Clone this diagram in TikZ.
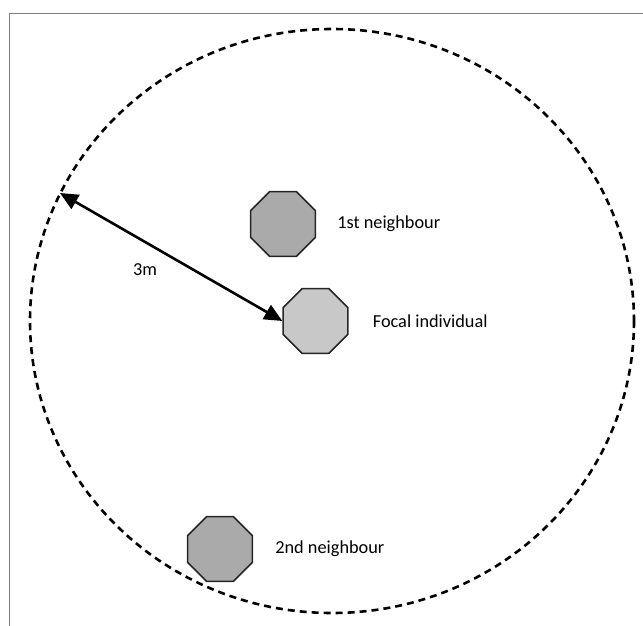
\documentclass[tikz,border=0pt]{standalone}
\usepackage{fontspec}
\setmainfont{Carlito}
\usetikzlibrary{shapes.geometric, arrows.meta, positioning}
\definecolor{framegrey}{RGB}{128, 128, 128}
\definecolor{neighgrey}{RGB}{170, 170, 170}
\definecolor{focalgrey}{RGB}{200, 200, 200}

\begin{document}
\begin{tikzpicture}[x=1pt, y=-1pt,
    animal/.style={regular polygon, regular polygon sides=8, minimum size=70pt, inner sep=0pt, draw=black!85, line width=1.6pt},
    tag/.style={font=\fontsize{18.3}{22}\selectfont, inner sep=0pt}]
  \useasboundingbox (0,0) rectangle (643,626);
  \clip (0,0) rectangle (643,626);
  % frame, runs off at the right and bottom
  \draw[framegrey, line width=1.5pt] (9.5,13.5) rectangle (700,700);
  % 3 m zone round the focal individual
  \draw[dash pattern=on 7pt off 5pt, line width=2.6pt] (332,321) ellipse [x radius=302, y radius=292];

  \node[animal, fill=neighgrey] (first) at (283,224) {};
  \node[animal, fill=focalgrey] (focal) at (315.5,321) {};
  \node[animal, fill=neighgrey] (second) at (220,549) {};

  \node[tag, right=21pt of first] (firstlab) {1st neighbour};
  \node[tag, right=24pt of focal] (focallab) {Focal individual};
  \node[tag, right=22pt of second] (secondlab) {2nd neighbour};

  % radius arrow
  \coordinate (rim) at (60,193);
  \draw[{Triangle[length=18pt,width=16pt]}-{Triangle[length=18pt,width=16pt]}, line width=2.6pt] (rim) -- (focal.west);
  \node[tag] (dist) at (145,270) {3m};
\end{tikzpicture}
\end{document}
